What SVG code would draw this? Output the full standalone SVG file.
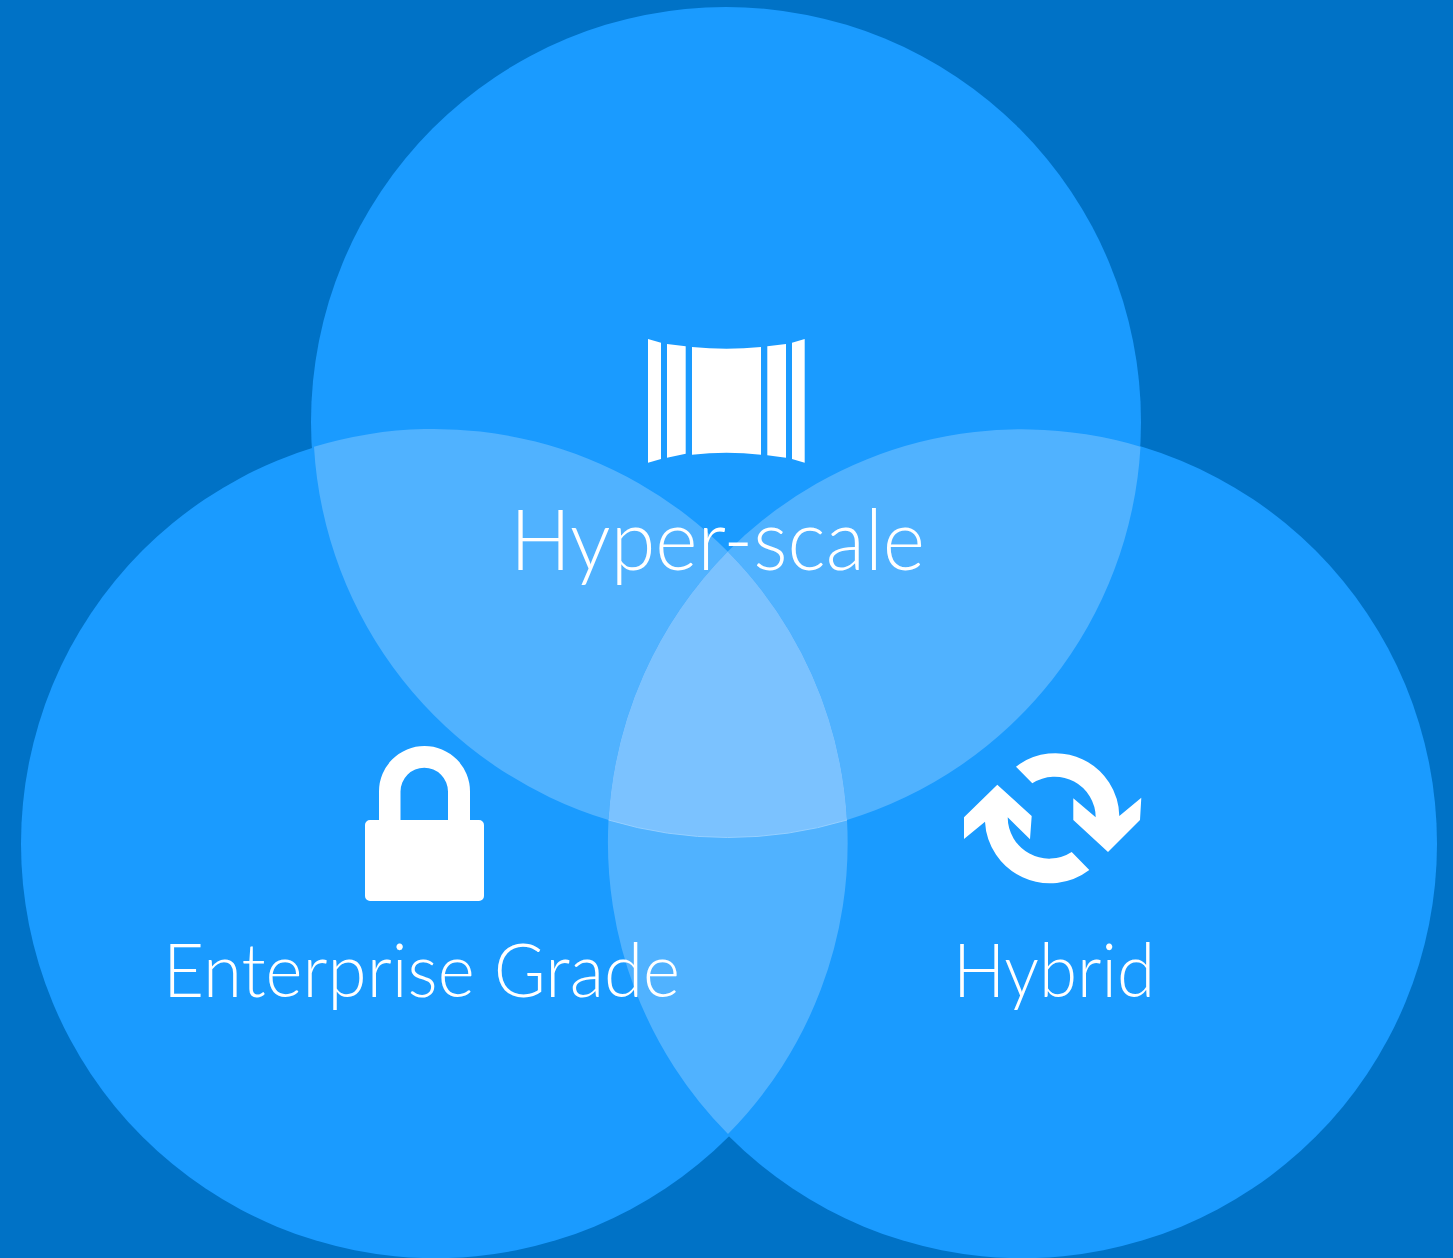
<svg xmlns="http://www.w3.org/2000/svg" width="1453" height="1258" viewBox="0 0 1453 1258">
<style>
.label{font-family:Lato,"Open Sans",sans-serif;font-weight:300;fill:#fff}
.big{font-size:84px}
.small{font-size:74px}
.icon{fill:#fff}
.c{fill:#1a9bff}
.two{fill:#50b2ff}
.three{fill:#7bc2ff}
</style>
<rect width="1453" height="1258" fill="#0072c6"/>
<g id="venn">
<circle id="circle-top" class="c" cx="726" cy="422" r="415"/>
<circle id="circle-left" class="c" cx="435.500" cy="843.700" r="414.500"/>
<circle id="circle-right" class="c" cx="1022.500" cy="843.700" r="414.500"/>
<path class="two" d="M314 446.700A415 415 0 0 0 608.500 820A414.500 414.500 0 0 1 727.700 551.500A413.500 413.500 0 0 0 314 446.700Z"/>
<path class="two" d="M1140.500 446.700A415 415 0 0 1 847 820A413.500 413.500 0 0 0 727.700 551.500A414.500 414.500 0 0 1 1140.500 446.700Z"/>
<path class="two" d="M608.500 820A415 415 0 0 0 847 820A413.500 413.500 0 0 1 728 1134A414.500 414.500 0 0 1 608.500 820Z"/>
<path class="three" d="M727.700 551.500A413.500 413.500 0 0 1 847 820A415 415 0 0 1 608.500 820A414.500 414.500 0 0 1 727.700 551.500Z"/>
<path d="M608.500 820A415 415 0 0 0 847 820" fill="none" stroke="#94cfff" stroke-width="1"/>
</g>
<g id="hyper-scale">
<path class="icon" d="M648 339L661 342.700V459L648 462.700Z"/>
<path class="icon" d="M667 344L685.700 346.300V453.700L667 457.700Z"/>
<path class="icon" d="M692 347Q726.500 350.500 761 347V454.700Q726.500 451 692 454.700Z"/>
<path class="icon" d="M767.300 346.300L786 344V457.700L767.300 455.300Z"/>
<path class="icon" d="M792 342.700L804.700 339V462.700L792 459Z"/>
<text class="label big" x="510" y="570" textLength="415" lengthAdjust="spacingAndGlyphs">Hyper-scale</text>
</g>
<g id="enterprise-grade">
<path class="icon" fill-rule="evenodd" d="M379 820V791.500A45.500 45.500 0 0 1 470 791.500V820H479A5 5 0 0 1 484 825V896A5 5 0 0 1 479 901H370A5 5 0 0 1 365 896V825A5 5 0 0 1 370 820ZM400.500 820H448V791.500A23.750 23.750 0 0 0 400.500 791.500Z"/>
<text class="label small" x="163" y="997" textLength="517" lengthAdjust="spacingAndGlyphs">Enterprise Grade</text>
</g>
<g id="hybrid">
<path class="icon" d="M1016 766.700A64 64 0 0 1 1119.300 816L1141.300 797.700L1140 820L1108 852L1073.300 820V798.300L1095.700 817.300A41 41 0 0 0 1032.300 783.300Z"/>
<path class="icon" d="M1089.300 870A65 65 0 0 1 985 821.700L964 839V817.300L997.300 784.700L1031.700 816L1030 839.300L1007.700 817.300A41.500 41.500 0 0 0 1071.700 852Z"/>
<text class="label small" x="953" y="997" textLength="202" lengthAdjust="spacingAndGlyphs">Hybrid</text>
</g>
</svg>
